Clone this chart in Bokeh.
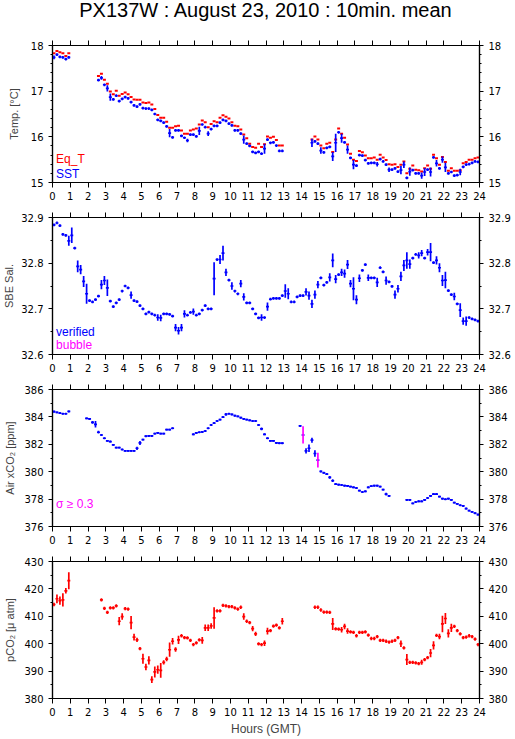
from bokeh.plotting import figure
from bokeh.layouts import column
from bokeh.models import (LinearAxis, SingleIntervalTicker, Label, ColumnDataSource,
                          CustomLabelingPolicy)
from bokeh.embed import file_html
from bokeh.resources import INLINE

TITLE = "PX137W : August 23, 2010 : 10min. mean"
X_LABEL = "Hours (GMT)"
STEP_H = 1.0 / 6.0          # 10-minute averaging interval (hours)
HOURS_RANGE = (0, 24)

# ---------------- Temperature panel ----------------
TEMP_SEG_START = [0.0, 2.5, 14.5]
EQT = [
    [17.83, 17.88, 17.85, 17.83, 17.77, 17.83],
    [17.33, 17.38, 17.25, 17.16, 16.99, 16.93, 17.01, 16.90, 16.94, 16.97,
     16.93, 16.87, 16.82, 16.81, 16.81, 16.75, 16.74, 16.75, 16.71, 16.61,
     16.48, 16.42, 16.42, 16.33, 16.20, 16.20, 16.23, 16.24, 16.14, 16.07,
     16.07, 16.14, 16.16, 16.18, 16.27, 16.36, 16.32, 16.21, 16.28, 16.34,
     16.32, 16.42, 16.47, 16.44, 16.40, 16.32, 16.24, 16.23, 16.16, 16.05,
     15.97, 15.85, 15.78, 15.76, 15.85, 15.78, 15.84, 16.01, 15.98, 16.00,
     15.93, 15.81, 15.81],
    [15.94, 16.01, 15.94, 15.81, 15.75, 15.85, 15.87, 15.67, 15.94, 16.18,
     16.07, 15.98, 15.83, 15.63, 15.50, 15.47, 15.69, 15.66, 15.59, 15.53,
     15.53, 15.55, 15.50, 15.61, 15.55, 15.49, 15.40, 15.39, 15.40, 15.34,
     15.39, 15.46, 15.20, 15.30, 15.37, 15.28, 15.27, 15.24, 15.31, 15.37,
     15.30, 15.61, 15.53, 15.39, 15.56, 15.45, 15.26, 15.31, 15.26, 15.26,
     15.27, 15.42, 15.45, 15.50, 15.50, 15.53, 15.55],
]
SST = [
    [17.74, 17.80, 17.75, 17.74, 17.70, 17.74],
    [17.24, 17.29, 17.14, 17.06, 16.87, 16.82, 16.90, 16.78, 16.83, 16.87,
     16.84, 16.76, 16.69, 16.66, 16.71, 16.63, 16.62, 16.62, 16.59, 16.50,
     16.37, 16.35, 16.31, 16.23, 16.08, 15.99, 16.14, 16.14, 16.02, 15.98,
     15.92, 16.05, 16.05, 16.01, 16.13, 16.27, 16.21, 16.07, 16.17, 16.24,
     16.24, 16.31, 16.37, 16.35, 16.29, 16.25, 16.14, 16.14, 16.07, 15.94,
     15.85, 15.80, 15.67, 15.65, 15.67, 15.63, 15.74, 15.94, 15.87, 15.88,
     15.81, 15.69, 15.69],
    [15.87, 15.90, 15.85, 15.70, 15.66, 15.76, 15.78, 15.57, 15.87, 16.10,
     15.97, 15.88, 15.72, 15.54, 15.39, 15.37, 15.60, 15.59, 15.49, 15.42,
     15.43, 15.43, 15.40, 15.51, 15.46, 15.39, 15.28, 15.28, 15.31, 15.24,
     15.27, 15.39, 15.10, 15.24, 15.27, 15.20, 15.20, 15.15, 15.23, 15.28,
     15.23, 15.55, 15.42, 15.31, 15.50, 15.33, 15.20, 15.23, 15.15, 15.16,
     15.23, 15.34, 15.39, 15.40, 15.43, 15.46, 15.45],
]
SST_SD = [
    [0.04, 0.03, 0.03, 0.03, 0.03, 0.03],
    [0.03, 0.04, 0.03, 0.07, 0.08, 0.03, 0.03, 0.03, 0.03, 0.03,
     0.03, 0.03, 0.03, 0.03, 0.03, 0.03, 0.03, 0.03, 0.03, 0.03,
     0.03, 0.03, 0.03, 0.03, 0.09, 0.03, 0.03, 0.03, 0.03, 0.03,
     0.04, 0.03, 0.03, 0.03, 0.09, 0.03, 0.03, 0.05, 0.03, 0.03,
     0.03, 0.03, 0.03, 0.03, 0.03, 0.03, 0.03, 0.03, 0.03, 0.09,
     0.03, 0.03, 0.03, 0.03, 0.03, 0.03, 0.11, 0.03, 0.03, 0.03,
     0.03, 0.03, 0.03],
    [0.09, 0.03, 0.03, 0.07, 0.03, 0.03, 0.03, 0.10, 0.20, 0.03,
     0.10, 0.03, 0.09, 0.03, 0.10, 0.03, 0.03, 0.03, 0.03, 0.03,
     0.03, 0.03, 0.05, 0.03, 0.03, 0.03, 0.05, 0.03, 0.03, 0.03,
     0.09, 0.07, 0.03, 0.09, 0.03, 0.03, 0.03, 0.07, 0.09, 0.03,
     0.10, 0.03, 0.07, 0.03, 0.07, 0.10, 0.03, 0.03, 0.03, 0.03,
     0.07, 0.03, 0.03, 0.03, 0.03, 0.03, 0.03],
]

# ---------------- Salinity panel ----------------
SAL_SEG_START = [0.0]
SAL = [[
    32.884, 32.888, 32.882, 32.863, 32.861, 32.849, 32.861, 32.833, 32.793, 32.786, 32.760, 32.733,
    32.718, 32.715, 32.720, 32.728, 32.753, 32.762, 32.746, 32.717, 32.705, 32.713, 32.720, 32.739,
    32.750, 32.746, 32.730, 32.718, 32.716, 32.707, 32.700, 32.689, 32.693, 32.689, 32.686, 32.681,
    32.680, 32.689, 32.689, 32.688, 32.684, 32.659, 32.652, 32.659, 32.689, 32.686, 32.692, 32.694,
    32.686, 32.689, 32.697, 32.707, 32.700, 32.700, 32.766, 32.808, 32.808, 32.822, 32.780, 32.763,
    32.750, 32.739, 32.733, 32.755, 32.726, 32.713, 32.713, 32.700, 32.689, 32.680, 32.681, 32.681,
    32.705, 32.721, 32.723, 32.723, 32.723, 32.729, 32.739, 32.733, 32.715, 32.715, 32.726, 32.729,
    32.729, 32.737, 32.729, 32.711, 32.731, 32.753, 32.768, 32.752, 32.758, 32.769, 32.806, 32.765,
    32.775, 32.780, 32.777, 32.797, 32.755, 32.744, 32.720, 32.767, 32.784, 32.797, 32.768, 32.768,
    32.768, 32.758, 32.790, 32.781, 32.762, 32.759, 32.749, 32.731, 32.744, 32.771, 32.795, 32.806,
    32.798, 32.811, 32.819, 32.817, 32.822, 32.811, 32.824, 32.824, 32.801, 32.806, 32.790, 32.762,
    32.763, 32.740, 32.731, 32.727, 32.711, 32.697, 32.673, 32.673, 32.681, 32.678, 32.676, 32.673,
]]
SAL_SD = [[
    0.003, 0.003, 0.003, 0.003, 0.003, 0.011, 0.017, 0.003, 0.013, 0.010, 0.012, 0.022,
    0.003, 0.003, 0.003, 0.003, 0.010, 0.010, 0.018, 0.003, 0.003, 0.003, 0.003, 0.003,
    0.003, 0.003, 0.008, 0.003, 0.003, 0.003, 0.003, 0.003, 0.003, 0.003, 0.003, 0.007,
    0.007, 0.003, 0.003, 0.003, 0.003, 0.008, 0.008, 0.008, 0.008, 0.003, 0.003, 0.007,
    0.003, 0.003, 0.003, 0.003, 0.003, 0.003, 0.036, 0.003, 0.010, 0.016, 0.008, 0.003,
    0.008, 0.003, 0.003, 0.008, 0.008, 0.003, 0.003, 0.003, 0.003, 0.003, 0.007, 0.003,
    0.009, 0.003, 0.003, 0.003, 0.003, 0.003, 0.015, 0.012, 0.003, 0.003, 0.003, 0.003,
    0.003, 0.008, 0.009, 0.009, 0.009, 0.008, 0.003, 0.003, 0.003, 0.009, 0.015, 0.009,
    0.003, 0.008, 0.009, 0.010, 0.008, 0.025, 0.010, 0.008, 0.003, 0.003, 0.007, 0.003,
    0.003, 0.010, 0.003, 0.003, 0.009, 0.003, 0.003, 0.009, 0.008, 0.010, 0.012, 0.018,
    0.010, 0.003, 0.003, 0.007, 0.007, 0.003, 0.007, 0.020, 0.003, 0.009, 0.010, 0.012,
    0.018, 0.003, 0.003, 0.008, 0.003, 0.015, 0.008, 0.010, 0.003, 0.003, 0.003, 0.003,
]]

# ---------------- Air xCO2 panel ----------------
AIR_SEG_START = [0.0, 11 / 6, 47 / 6, 83 / 6, 119 / 6]
AIR = [
    [384.38, 384.33, 384.28, 384.23, 384.23, 384.40],
    [383.89, 383.85, 383.60, 383.46, 382.88, 382.68, 382.44, 382.25, 382.20, 381.96,
     381.76, 381.76, 381.62, 381.52, 381.52, 381.52, 381.52, 381.71, 382.10, 382.34,
     382.59, 382.61, 382.61, 382.78, 382.83, 382.78, 382.78, 383.07, 383.07, 383.17],
    [382.73, 382.83, 382.88, 382.90, 382.97, 383.17, 383.41, 383.55, 383.70, 383.80,
     383.99, 384.18, 384.23, 384.18, 384.09, 384.04, 383.94, 383.85, 383.80, 383.75,
     383.70, 383.70, 383.41, 383.12, 382.73, 382.44, 382.25, 382.25, 382.10, 382.08,
     382.08],
    [383.34, 382.68, 381.52, 381.71, 382.30, 381.33, 380.84, 380.02, 379.92, 379.83,
     379.58, 379.34, 379.10, 379.05, 379.03, 378.98, 378.96, 378.91, 378.86, 378.81,
     378.62, 378.52, 378.57, 378.86, 378.95, 378.98, 378.98, 378.91, 378.69, 378.37,
     378.23],
    [377.94, 377.94, 377.69, 377.79, 377.84, 377.84, 377.94, 378.08, 378.23, 378.37,
     378.37, 378.18, 378.03, 377.99, 378.03, 377.94, 377.74, 377.65, 377.55, 377.50,
     377.31, 377.16, 377.07, 376.97, 376.87],
]
AIR_SD = [
    [0.08, 0.07, 0.07, 0.07, 0.07, 0.07],
    [0.07, 0.07, 0.10, 0.24, 0.10, 0.07, 0.07, 0.07, 0.07, 0.07,
     0.07, 0.07, 0.07, 0.07, 0.07, 0.07, 0.07, 0.12, 0.15, 0.07,
     0.07, 0.07, 0.07, 0.07, 0.07, 0.07, 0.07, 0.07, 0.07, 0.07],
    [0.07, 0.07, 0.07, 0.07, 0.07, 0.07, 0.07, 0.07, 0.07, 0.07,
     0.07, 0.10, 0.07, 0.07, 0.07, 0.07, 0.07, 0.07, 0.07, 0.07,
     0.07, 0.07, 0.07, 0.10, 0.07, 0.07, 0.07, 0.07, 0.07, 0.07,
     0.07],
    [0.07, 0.63, 0.20, 0.28, 0.18, 0.24, 0.54, 0.07, 0.07, 0.07,
     0.10, 0.10, 0.07, 0.07, 0.07, 0.07, 0.07, 0.07, 0.07, 0.07,
     0.07, 0.07, 0.07, 0.07, 0.07, 0.07, 0.07, 0.07, 0.07, 0.10,
     0.07],
    [0.07, 0.07, 0.07, 0.07, 0.07, 0.07, 0.07, 0.07, 0.07, 0.07,
     0.07, 0.07, 0.07, 0.07, 0.07, 0.07, 0.07, 0.07, 0.07, 0.07,
     0.07, 0.07, 0.07, 0.07, 0.07],
]
SIGMA_LIMIT = 0.3

# ---------------- pCO2 panel ----------------
PCO2_SEG_START = [0.0, 16 / 6, 88 / 6]
PCO2 = [
    [414.3, 416.4, 415.7, 416.0, 419.3, 423.0],
    [416.0, 412.9, 411.4, 413.1, 413.1, 413.8, 408.2, 409.9, 412.8, 412.6,
     407.7, 402.4, 401.4, 398.2, 394.5, 391.5, 393.9, 386.9, 389.7, 390.5,
     390.3, 393.2, 394.4, 397.8, 400.9, 397.9, 401.4, 402.9, 402.2, 402.1,
     401.2, 399.7, 400.3, 401.4, 401.2, 405.8, 405.8, 406.5, 409.4, 412.0,
     412.0, 414.0, 413.8, 413.5, 413.5, 413.1, 412.6, 413.3, 409.9, 408.2,
     407.7, 405.5, 403.6, 399.9, 399.7, 400.2, 404.6, 404.8, 406.4, 406.8,
     405.8, 408.2],
    [413.3, 413.3, 412.3, 411.5, 411.5, 411.4, 407.2, 405.4, 405.3, 405.1,
     406.3, 404.6, 404.3, 404.1, 402.9, 404.1, 404.1, 404.3, 403.1, 401.9,
     401.9, 402.6, 401.2, 401.2, 400.9, 400.6, 400.9, 401.2, 402.2, 400.0,
     398.5, 394.2, 393.2, 393.2, 393.0, 392.7, 393.2, 394.2, 394.9, 396.6,
     399.4, 403.0, 402.6, 407.2, 409.2, 403.8, 405.8, 406.3, 404.8, 403.6,
     402.2, 402.4, 402.9, 402.6, 401.7, 399.7],
]
PCO2_SD = [
    [0.6, 1.6, 1.5, 2.4, 1.0, 3.1],
    [0.6, 0.6, 0.6, 0.6, 0.6, 0.6, 1.5, 1.2, 0.6, 0.6,
     2.4, 1.2, 0.8, 0.6, 1.8, 1.2, 1.5, 1.2, 2.0, 1.5,
     2.7, 0.8, 0.8, 2.6, 1.2, 0.8, 1.5, 0.6, 0.6, 0.6,
     0.6, 0.6, 0.6, 0.6, 1.2, 1.2, 1.2, 1.0, 3.9, 0.6,
     0.6, 0.6, 0.6, 0.6, 0.6, 0.6, 0.6, 0.6, 1.2, 0.6,
     0.6, 1.0, 0.8, 0.6, 0.6, 1.0, 1.2, 0.6, 0.6, 0.6,
     0.6, 1.2],
    [0.6, 0.6, 0.6, 0.6, 0.6, 0.6, 2.2, 0.6, 0.6, 1.0,
     1.0, 1.0, 0.6, 0.6, 0.6, 0.6, 0.6, 0.6, 0.6, 0.6,
     0.6, 0.6, 0.6, 0.6, 0.6, 0.6, 0.6, 0.6, 0.6, 1.2,
     0.6, 2.0, 0.6, 0.6, 0.6, 0.6, 0.9, 0.6, 0.6, 1.5,
     1.5, 0.6, 1.0, 3.0, 2.0, 1.5, 1.5, 0.6, 0.6, 0.6,
     0.6, 0.6, 0.6, 0.6, 0.6, 0.6],
]

BLUE = "#0000ff"
RED = "#ff0000"
MAGENTA = "#ff00ff"
TICK_FONT = "DejaVu Sans"
LABEL_FONT = "Liberation Sans"

FW, FH = 427, 137
BL, BR = 51, 35
TITLE_H = 32
TOP_MID, BOT_MID = 13, 22


def cross_source(starts, vals, sds=None, color=BLUE, limit=None):
    d = dict(x0=[], x1=[], xm=[], y=[], lo=[], hi=[], vc=[])
    for si, (s, vs) in enumerate(zip(starts, vals)):
        for k, v in enumerate(vs):
            t = s + k * STEP_H
            sd = sds[si][k] if sds is not None else 0.0
            d["x0"].append(t)
            d["x1"].append(t + STEP_H)
            d["xm"].append(t + STEP_H / 2)
            d["y"].append(v)
            d["lo"].append(v - sd)
            d["hi"].append(v + sd)
            d["vc"].append(MAGENTA if (limit is not None and sd >= limit) else color)
    return ColumnDataSource(d)


def make_fig(yr, yint, yminor, ylabel, top, bottom, xlabel=None, ylabel_standoff=3):
    p = figure(frame_width=FW, frame_height=FH, x_range=HOURS_RANGE, y_range=yr,
               output_backend="svg", toolbar_location=None,
               min_border_left=BL, min_border_right=BR,
               min_border_top=top, min_border_bottom=bottom,
               x_axis_location=None, y_axis_location=None)
    p.xgrid.visible = False
    p.ygrid.visible = False
    p.outline_line_color = "black"
    p.outline_line_width = 1.2
    p.background_fill_color = "white"
    p.border_fill_color = "white"
    xt = SingleIntervalTicker(interval=1, num_minor_ticks=0)
    yt = SingleIntervalTicker(interval=yint, num_minor_ticks=yminor)
    for loc in ("below", "above"):
        ax = LinearAxis(ticker=xt)
        ax.major_tick_in = 0
        ax.major_tick_out = 5
        ax.minor_tick_in = 0
        ax.minor_tick_out = 0
        ax.axis_line_width = 1.2
        ax.major_label_text_font = TICK_FONT
        ax.major_label_text_font_size = "10px"
        ax.major_label_text_color = "black"
        ax.major_label_standoff = 4
        if loc == "above":
            ax.major_label_text_font_size = "0px"
            ax.major_label_standoff = 0
            ax.major_label_policy = CustomLabelingPolicy(code="return false")
        if loc == "below" and xlabel:
            ax.axis_label = xlabel
            ax.axis_label_text_font = LABEL_FONT
            ax.axis_label_text_font_style = "normal"
            ax.axis_label_text_font_size = "12px"
            ax.axis_label_standoff = 3
        p.add_layout(ax, loc)
    for loc in ("left", "right"):
        ax = LinearAxis(ticker=yt)
        ax.major_tick_in = 0
        ax.major_tick_out = 4
        ax.minor_tick_in = 0
        ax.minor_tick_out = 2
        ax.axis_line_width = 1.2
        ax.major_label_text_font = TICK_FONT
        ax.major_label_text_font_size = "10px"
        ax.major_label_text_color = "black"
        ax.major_label_standoff = 5
        if loc == "left":
            ax.axis_label = ylabel
            ax.axis_label_text_font = LABEL_FONT
            ax.axis_label_text_font_style = "normal"
            ax.axis_label_text_font_size = "11px"
            ax.axis_label_standoff = ylabel_standoff
        p.add_layout(ax, loc)
    return p


def draw_crosses(p, src, color, vertical=True, lw=1.7):
    p.segment("x0", "y", "x1", "y", source=src, line_color=color, line_width=lw)
    if vertical:
        p.segment("xm", "lo", "xm", "hi", source=src, line_color="vc", line_width=lw)


def add_text(p, x, y, text, color, size="12px", align="left"):
    p.add_layout(Label(x=x, y=y, text=text, text_color=color, text_font=LABEL_FONT,
                       text_font_size=size, text_baseline="alphabetic", text_align=align))


# Title strip (a bare figure holding the chart title, centred over the hour axis)
p0 = figure(frame_width=FW, frame_height=TITLE_H, x_range=HOURS_RANGE, y_range=(0, 1),
            output_backend="svg", toolbar_location=None,
            min_border_left=BL, min_border_right=BR, min_border_top=0, min_border_bottom=0,
            x_axis_location=None, y_axis_location=None)
p0.xgrid.visible = False
p0.ygrid.visible = False
p0.outline_line_color = None
add_text(p0, 12, 0.69, TITLE, "black", size="20px", align="center")

# Panel 1: temperature
p1 = make_fig((15, 18), 1, 5, "Temp. [°C]", 45 - TITLE_H, BOT_MID, ylabel_standoff=8)
draw_crosses(p1, cross_source(TEMP_SEG_START, EQT, color=RED), RED, vertical=False, lw=2)
draw_crosses(p1, cross_source(TEMP_SEG_START, SST, SST_SD, color=BLUE), BLUE)
add_text(p1, 0.2, 15.517, "Eq_T", RED)
add_text(p1, 0.2, 15.19, "SST", BLUE)

# Panel 2: salinity
p2 = make_fig((32.6, 32.9), 0.1, 2, "SBE Sal.", TOP_MID, BOT_MID, ylabel_standoff=3)
draw_crosses(p2, cross_source(SAL_SEG_START, SAL, SAL_SD, color=BLUE), BLUE)
add_text(p2, 0.2, 32.649, "verified", BLUE)
add_text(p2, 0.2, 32.620, "bubble", MAGENTA)

# Panel 3: air xCO2
p3 = make_fig((376, 386), 2, 2, "Air xCO₂ [ppm]", TOP_MID, BOT_MID, ylabel_standoff=5)
draw_crosses(p3, cross_source(AIR_SEG_START, AIR, AIR_SD, color=BLUE, limit=SIGMA_LIMIT), BLUE)
add_text(p3, 0.2, 377.615, "σ ≥ 0.3", MAGENTA)

# Panel 4: pCO2
p4 = make_fig((380, 430), 10, 2, "pCO₂ [μ atm]", TOP_MID, 40, xlabel=X_LABEL, ylabel_standoff=5)
draw_crosses(p4, cross_source(PCO2_SEG_START, PCO2, PCO2_SD, color=RED), RED)

layout = column(p0, p1, p2, p3, p4, spacing=0)
open("out.html", "w").write(file_html(layout, INLINE, title="PX137W"))
